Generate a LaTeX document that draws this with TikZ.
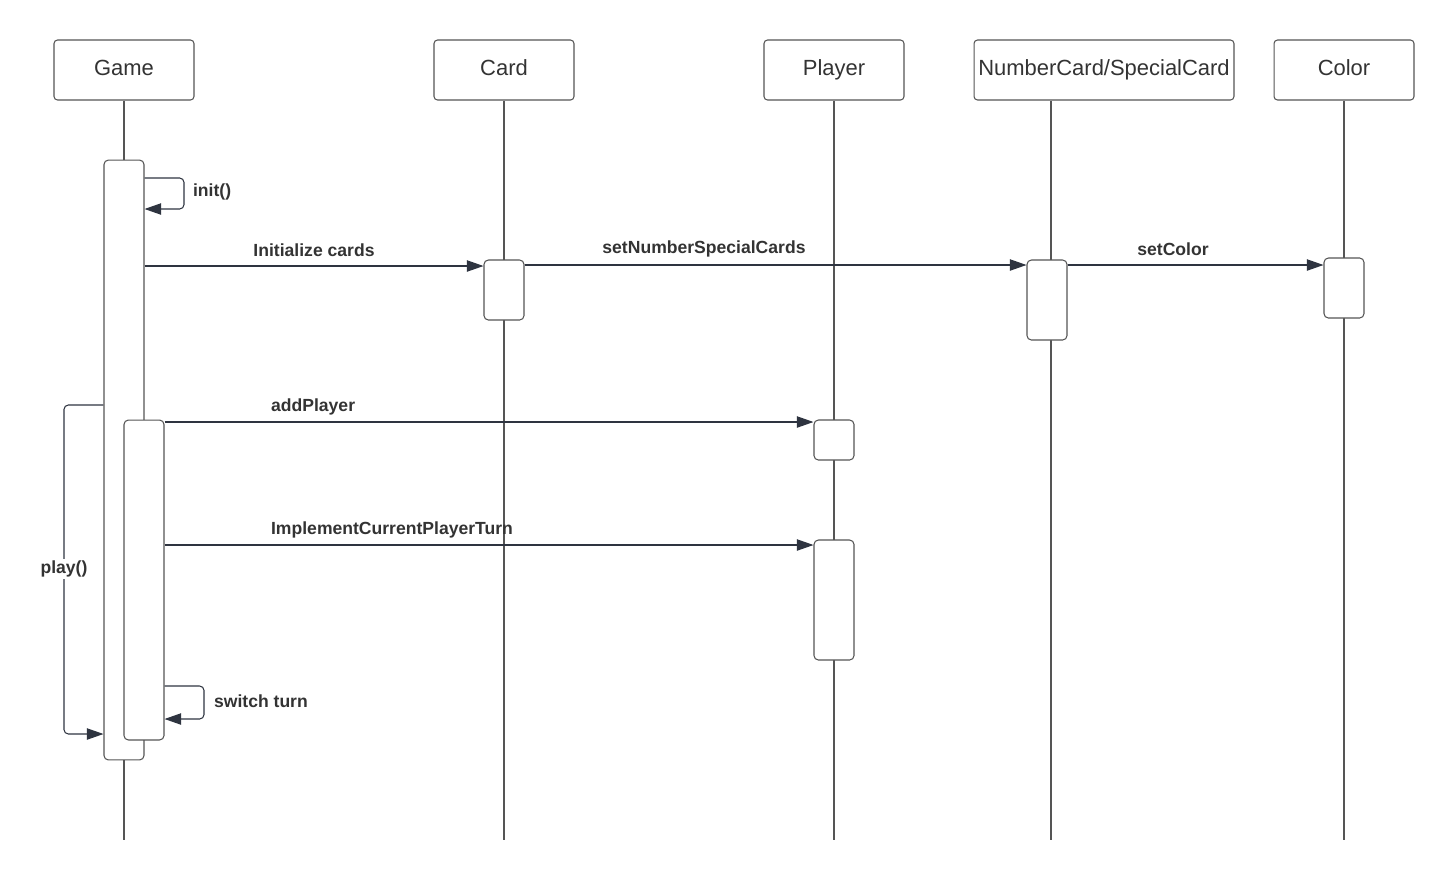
\documentclass[tikz,border=0pt]{standalone}
\usepackage{fontspec}
\setmainfont{Liberation Sans}
\usetikzlibrary{arrows.meta,shapes}

\definecolor{lineclr}{HTML}{555555}
\definecolor{tipclr}{HTML}{2E3440}
\definecolor{txtclr}{HTML}{333333}

\tikzset{
  obj/.style={draw=lineclr,line width=0.6pt,rounded corners=2pt,minimum width=2.8cm,
    minimum height=1.2cm,text=txtclr,font=\fontsize{12.5}{14}\selectfont,inner sep=0pt,
    text height=1.6ex,text depth=0.45ex},
  act/.style={draw=lineclr,line width=0.6pt,fill=white,rounded corners=2.5pt,minimum width=0.8cm,inner sep=0pt},
  life/.style={draw=lineclr,line width=0.6pt},
  msg/.style={draw=tipclr,line width=0.6pt,-{Triangle[length=9.5pt,width=6.5pt,fill=tipclr]}},
  lbl/.style={text=txtclr,font=\fontsize{10}{12}\selectfont\bfseries,inner sep=1pt}
}

\begin{document}
\begin{tikzpicture}[x=0.02cm,y=-0.02cm]
\useasboundingbox (0,0) rectangle (1454,880);
% objects
\node[obj] (game) at (124,70) {Game};
\node[obj] (card) at (504,70) {Card};
\node[obj] (player) at (834,70) {Player};
\node[obj,minimum width=5.2cm] (nc) at (1104,70) {NumberCard/SpecialCard};
\node[obj] (color) at (1344,70) {Color};
% lifelines
\draw[life] (game.south) -- (124,840);
\draw[life] (card.south) -- (504,840);
\draw[life] (player.south) -- (834,840);
\draw[life] (nc.south -| 1051,0) -- (1051,840);
\draw[life] (color.south) -- (1344,840);
% activations
\node[act,minimum height=12cm] (gA) at (124,460) {};
\node[act,minimum height=6.4cm] (gB) at (144,580) {};
\node[act,minimum height=1.2cm] (cA) at (504,290) {};
\node[act,minimum height=1.6cm] (nA) at (1047,300) {};
\node[act,minimum height=1.2cm] (kA) at (1344,288) {};
\node[act,minimum height=0.8cm] (pA) at (834,440) {};
\node[act,minimum height=2.4cm] (pB) at (834,600) {};
% messages
\draw[msg,rounded corners=2.5pt] (gA.east |- 0,178) -| (184,209) -- (gA.east |- 0,209);
\node[lbl,anchor=west] (init) at (191,192) {init()};
\draw[msg] (gA.east |- 0,266) -- (cA.west |- 0,266);
\node[lbl] (ic) at (314,250) {Initialize cards};
\draw[msg] (cA.east |- 0,265) -- (nA.west |- 0,265);
\node[lbl] (sn) at (704,249) {setNumberSpecialCards};
\draw[msg] (nA.east |- 0,265) -- (kA.west |- 0,265);
\node[lbl] (sc) at (1173,249) {setColor};
\draw[msg] (gB.east |- 0,422) -- (pA.west |- 0,422);
\node[lbl,anchor=west] (ap) at (269,407) {addPlayer};
\draw[msg] (gB.east |- 0,545) -- (pB.west |- 0,545);
\node[lbl,anchor=west] (ip) at (269,530) {ImplementCurrentPlayerTurn};
\draw[msg,rounded corners=2.5pt] (gB.east |- 0,686) -| (204,719) -- (gB.east |- 0,719);
\node[lbl,anchor=west] (st) at (212,701) {switch turn};
\draw[msg,rounded corners=2.5pt] (gA.west |- 0,405) -| (64,734) -- (gA.west |- 0,734);
\node[lbl,fill=white] (pl) at (64,569) {play()};
\end{tikzpicture}
\end{document}
